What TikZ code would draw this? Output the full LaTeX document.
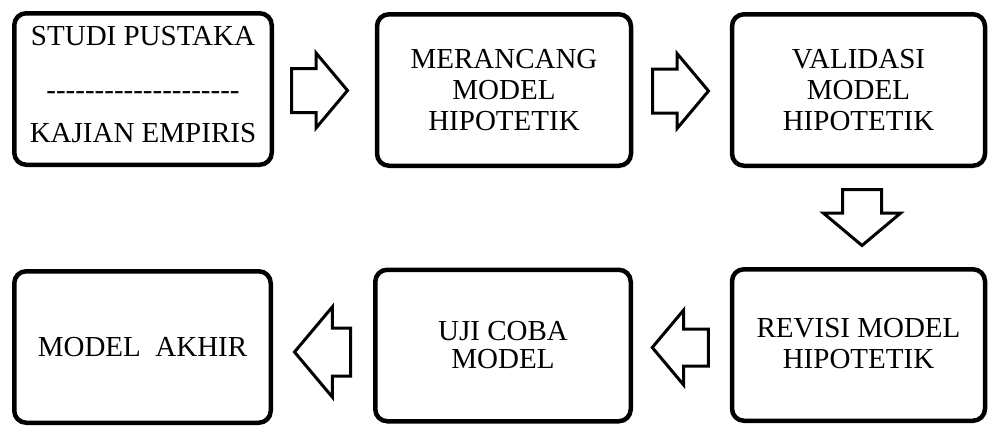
\documentclass[tikz,border=0pt]{standalone}
\usepackage{fontspec}
\setmainfont{Liberation Serif}[Ligatures=TeXOff]
\usetikzlibrary{shapes.arrows,calc}

\tikzset{
  tahap/.style={draw, line width=4.5pt, rounded corners=12pt, minimum width=253pt,
    minimum height=151.5pt, align=center, font=\fontsize{29}{31}\selectfont},
  panah/.style={single arrow, draw, line width=3pt, inner xsep=0pt, inner ysep=20.5pt,
    single arrow head extend=15.5pt, single arrow tip angle=100, minimum height=56pt, anchor=tail}
}

\begin{document}
\begin{tikzpicture}[x=1pt,y=-1pt]
                        \useasboundingbox (0,0) rectangle (988,426);

                        \node[tahap, minimum width=257.5pt, text depth=10pt] (studi) at (143,89) {STUDI PUSTAKA\\[23pt]--------------------\\[12pt]KAJIAN EMPIRIS};
                        \node[tahap, minimum width=254pt] (rancang) at (504,90) {MERANCANG\\MODEL\\HIPOTETIK};
                        \node[tahap] (validasi) at (858.5,90) {VALIDASI\\MODEL\\HIPOTETIK};

                        \node[tahap, text depth=4pt] (revisi) at (858.5,345) {REVISI MODEL\\HIPOTETIK};
                        \node[tahap, minimum width=255.5pt] (ujicoba) at (503,345.5) {UJI COBA\\[-3pt]MODEL};
                        \node[tahap, minimum width=256.5pt] (akhir) at (142.5,347) {MODEL\ \ AKHIR};

                        \node[panah] (p1) at ($(studi.east)+(16,1.5)$) {};
                        \node[panah] (p2) at ($(rancang.east)+(17.75,1)$) {};
                        \node[panah, shape border rotate=270, inner xsep=18pt, inner ysep=0pt, single arrow head extend=19pt] (p3) at ($(validasi.south)+(3.5,20)$) {};
                        \node[panah, shape border rotate=180, inner ysep=17pt, single arrow head extend=19pt] (p4) at ($(revisi.west)+(-20,2.5)$) {};
                        \node[panah, shape border rotate=180, inner ysep=22.5pt, single arrow head extend=21pt] (p5) at ($(ujicoba.west)+(-21,6.5)$) {};
                    \end{tikzpicture}
\end{document}
